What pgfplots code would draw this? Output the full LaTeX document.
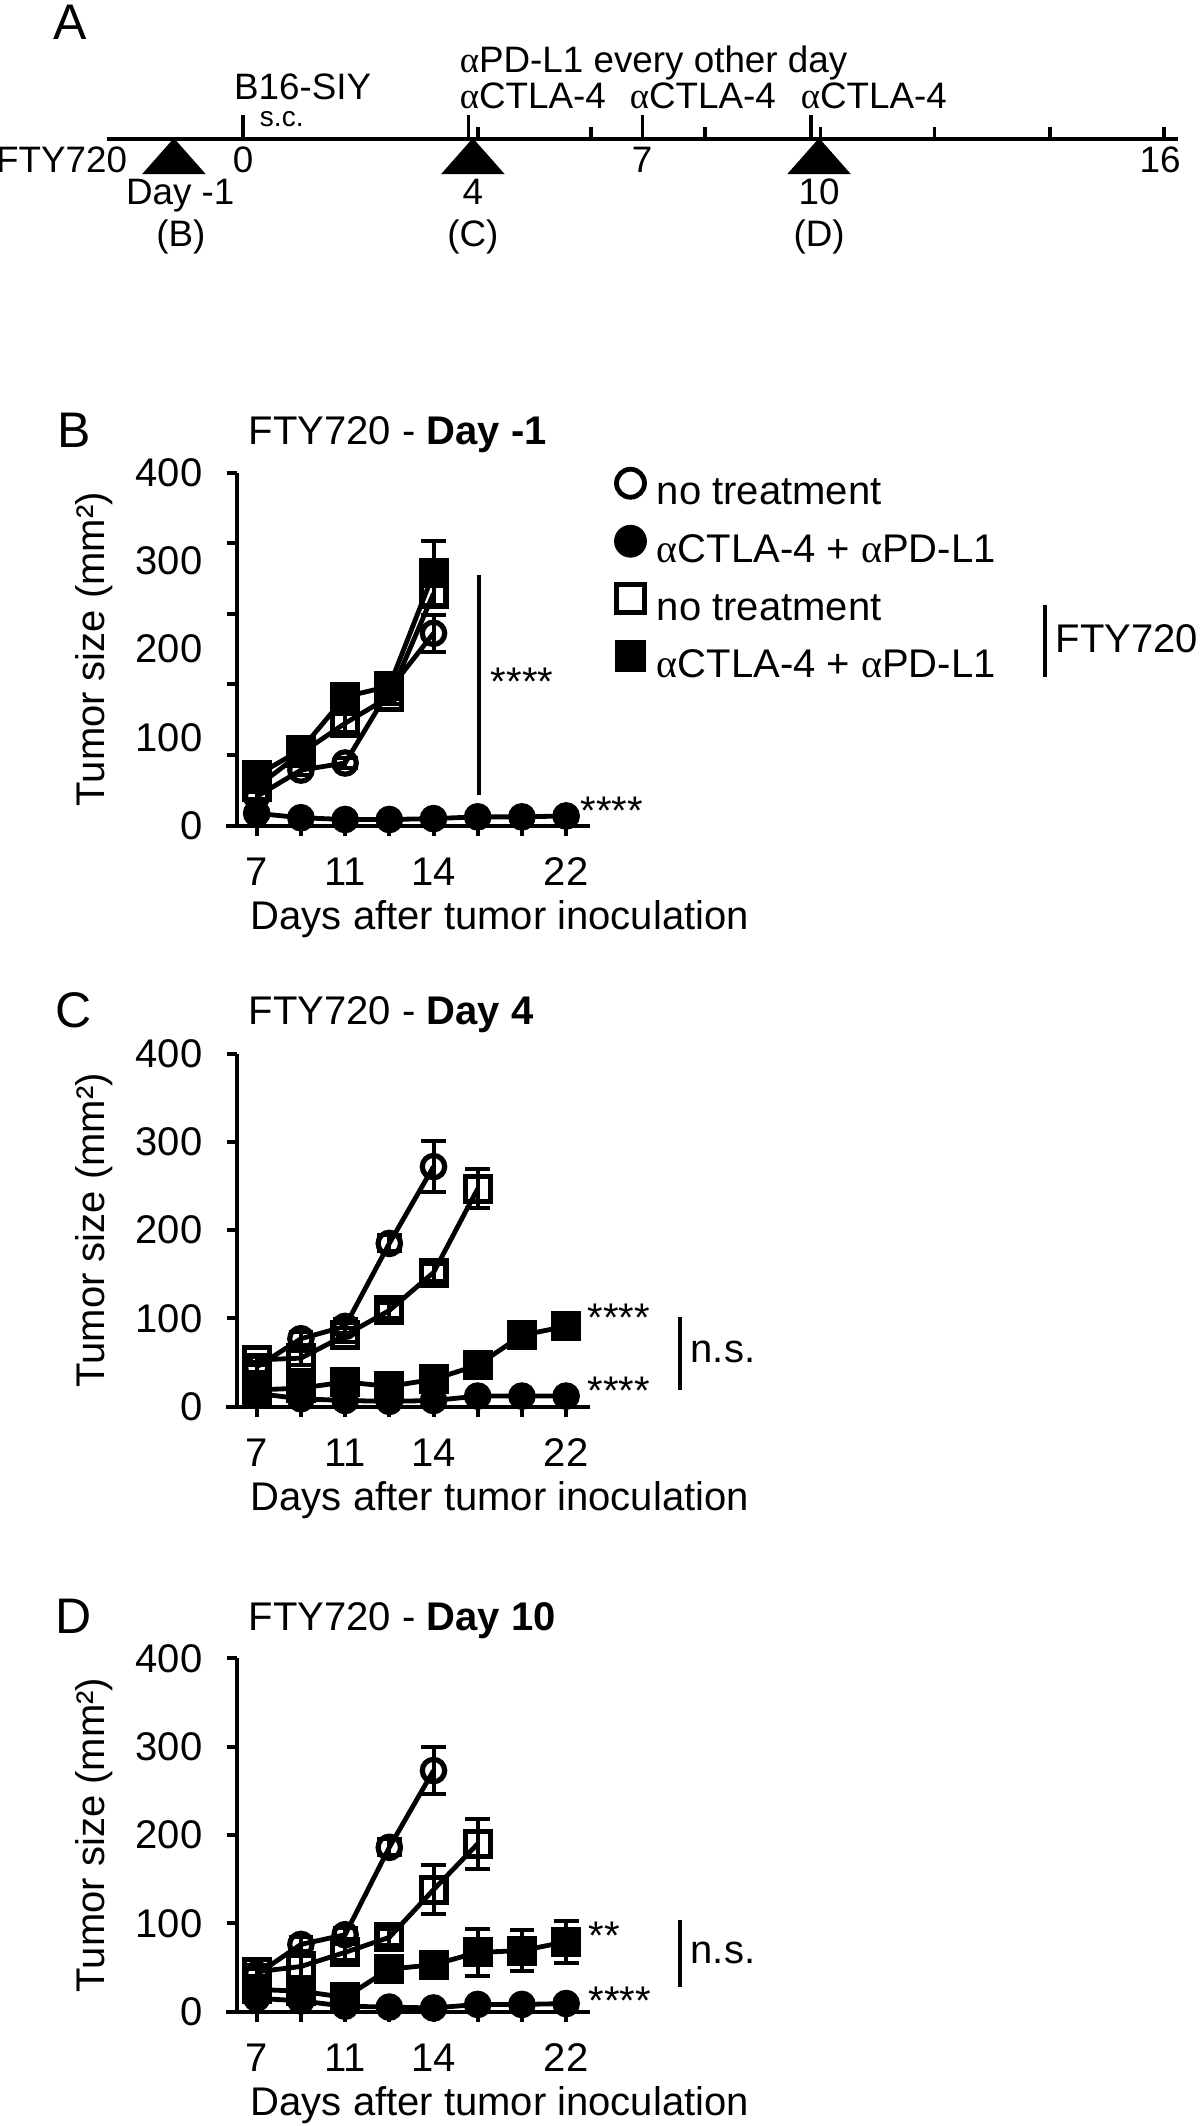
\documentclass[border=0pt]{standalone}
\usepackage{pgfplots}
\pgfplotsset{compat=1.18}
\usepackage{fontspec}
\setmainfont{Liberation Sans}
\newfontfamily\greekrm{Liberation Serif}

\newcommand{\ten}{\fontsize{10}{12}\selectfont}
\newcommand{\tl}{\fontsize{9.2}{11}\selectfont}
\newcommand{\panelfont}{\fontsize{12.5}{14}\selectfont}
\newcommand{\al}{{\greekrm α}}

\pgfplotsset{
  tumor/.style={
    scale only axis, width=88.375pt, height=88.25pt,
    anchor=south west,
    xmin=-0.457, xmax=7.54, ymin=0, ymax=400,
    axis lines=left, axis line style={-, line width=1pt},
    x axis line style={-}, y axis line style={-},
    tick align=outside, major tick length=2.5pt, minor tick length=2.5pt,
    major tick style={line width=1pt, black},
    minor tick style={line width=1pt, black},
    xtick={0,...,7}, xticklabels={7,,11,,14,,,22},
    ytick={0,100,200,300,400},
    tick label style={font=\ten},
    /pgf/number format/assume math mode=true,
    xticklabel style={yshift=-2pt},
    yticklabel style={xshift=-2.5pt},
    xlabel={Days after tumor inoculation},
    ylabel={Tumor size (mm²)},
    label style={font=\ten},
    xlabel style={at={(axis description cs:0.745,-0.264)}, anchor=center},
    ylabel style={at={(axis description cs:-0.403,0.5)}, anchor=center},
    clip=false,
  },
  ser/.style={black, line width=1.2pt, mark size=2.8pt,
    mark options={solid, line width=1.3pt}, forget plot,
    error bars/y dir=both, error bars/y explicit,
    error bars/error bar style={line width=1pt, black},
    error bars/error mark options={rotate=90, mark size=3.1pt, line width=1pt, black}},
  sq/.style={mark size=3.1pt},
}

\begin{document}
\begin{tikzpicture}
\useasboundingbox (0,0) rectangle (300pt,531.5pt);

% ---------- A: timeline ----------
\begin{axis}[at={(26.2pt,466.5pt)}, anchor=south west, scale only axis,
  width=269.28pt, height=65pt, xmin=-2.4, xmax=16.3, ymin=-121, ymax=139,
  hide axis, clip=false]
\addplot[black, line width=1.2pt] coordinates {(-2.36,0) (16.23,0)};
\addplot[black, ycomb, line width=0.8pt] coordinates {(0,24) (3.92,24) (6.93,24) (9.86,24)};
\addplot[black, ycomb, line width=0.8pt] coordinates {(4.08,12) (6.04,12) (8.02,12) (10.03,12) (12.01,12) (14.01,12) (15.99,12)};
\addplot[black, only marks, mark=triangle*, mark size=8.66pt, mark options={yscale=0.654}]
  coordinates {(-1.2,-23) (3.99,-23) (10,-23)};
\begin{scope}[every node/.style={font=\tl, inner sep=0pt}]
\node[anchor=base east] at (axis cs:-2.0,-34) {FTY720};
\node[anchor=base west] at (axis cs:-0.17,39) {B16-SIY};
\node[anchor=base west, font=\fontsize{7}{8}\selectfont] at (axis cs:0.28,12) {s.c.};
\node[anchor=base west] at (axis cs:3.75,66) {\al PD-L1 every other day};
\node[anchor=base west] at (axis cs:3.75,30) {\al CTLA-4};
\node[anchor=base west] at (axis cs:6.70,30) {\al CTLA-4};
\node[anchor=base west] at (axis cs:9.67,30) {\al CTLA-4};
\node[anchor=base] at (axis cs:0,-34) {0};
\node[anchor=base] at (axis cs:6.93,-34) {7};
\node[anchor=base] at (axis cs:15.92,-34) {16};
\node[anchor=base] at (axis cs:-1.09,-66) {Day -1};
\node[anchor=base] at (axis cs:3.99,-66) {4};
\node[anchor=base] at (axis cs:10,-66) {10};
\node[anchor=base] at (axis cs:-1.08,-108) {(B)};
\node[anchor=base] at (axis cs:3.99,-108) {(C)};
\node[anchor=base] at (axis cs:10,-108) {(D)};
\end{scope}
\end{axis}

% ---------- B ----------
\begin{axis}[tumor, at={(59.125pt,325.075pt)},
  major y tick style={draw=none},
  minor ytick={0,80,160,240,320,400},
  legend style={at={(1.0716,1.012)}, anchor=north west, draw=none, fill=none,
    inner sep=0pt, row sep=3pt, column sep=3pt, font=\ten,
    nodes={inner sep=0pt, text height=7.5pt, text depth=2.5pt}},
  legend cell align=left,
  legend image code/.code={\draw[#1] plot coordinates {(0pt,2.9pt)};},
]
\addplot[ser, mark=o] coordinates {(0,33) +- (0,5) (1,63) +- (0,6) (2,71) +- (0,6) (3,154) +- (0,8) (4,218) +- (0,21)};
\addplot[ser, mark=*] coordinates {(0,14) +- (0,3) (1,9) +- (0,3) (2,7) +- (0,2) (3,7) +- (0,2) (4,8) +- (0,2) (5,10) +- (0,3) (6,10) +- (0,3) (7,11) +- (0,3)};
\addplot[ser, sq, mark=square] coordinates {(0,44) +- (0,6) (1,82) +- (0,8) (2,116) +- (0,10) (3,146) +- (0,8) (4,263) +- (0,14)};
\addplot[ser, sq, mark=square*] coordinates {(0,57) +- (0,6) (1,86) +- (0,8) (2,146) +- (0,10) (3,158) +- (0,8) (4,286) +- (0,37)};
\addlegendimage{only marks, mark=o, mark size=3.5pt, line width=1.2pt}
\addlegendentry{no treatment}
\addlegendimage{only marks, mark=*, mark size=3.6pt, line width=1pt}
\addlegendentry{\al CTLA-4 + \al PD-L1}
\addlegendimage{only marks, mark=square, mark size=3.5pt, line width=1.2pt}
\addlegendentry{no treatment}
\addlegendimage{only marks, mark=square*, mark size=3.4pt, line width=1pt}
\addlegendentry{\al CTLA-4 + \al PD-L1}
\draw[line width=1pt] (axis cs:-0.69,0) -- (axis cs:-0.457,0);
\draw[line width=1pt] (axis cs:5.03,35) -- (axis cs:5.03,284);
\node[anchor=base west, inner sep=0pt, font=\ten] at (axis cs:5.28,147) {****};
\node[anchor=base west, inner sep=0pt, font=\ten] at (axis cs:7.31,1) {****};
\end{axis}

% ---------- C ----------
\begin{axis}[tumor, at={(59.125pt,179.825pt)}]
\addplot[ser, mark=o] coordinates {(0,45) +- (0,6) (1,77) +- (0,8) (2,91) +- (0,8) (3,185) +- (0,9) (4,272) +- (0,29)};
\addplot[ser, sq, mark=square] coordinates {(0,53) +- (0,6) (1,55) +- (0,8) (2,81) +- (0,8) (3,109) +- (0,9) (4,152) +- (0,10) (5,247) +- (0,22)};
\addplot[ser, sq, mark=square*] coordinates {(0,19) +- (0,4) (1,21) +- (0,5) (2,28) +- (0,6) (3,23) +- (0,5) (4,31) +- (0,6) (5,47) +- (0,7) (6,81) +- (0,8) (7,91) +- (0,9)};
\addplot[ser, mark=*] coordinates {(0,15) +- (0,3) (1,9) +- (0,3) (2,7) +- (0,2) (3,6) +- (0,2) (4,7) +- (0,2) (5,12) +- (0,3) (6,12) +- (0,3) (7,12) +- (0,3)};
\draw[line width=1pt] (axis cs:-0.69,0) -- (axis cs:-0.457,0);
\node[anchor=base west, inner sep=0pt, font=\ten] at (axis cs:7.47,85) {****};
\node[anchor=base west, inner sep=0pt, font=\ten] at (axis cs:7.47,2) {****};
\draw[line width=1pt] (axis cs:9.58,19) -- (axis cs:9.58,102);
\node[anchor=base west, inner sep=0pt, font=\ten] at (axis cs:9.8,50) {n.s.};
\end{axis}

% ---------- D ----------
\begin{axis}[tumor, at={(59.125pt,28.625pt)}]
\addplot[ser, mark=o] coordinates {(0,42) +- (0,6) (1,76) +- (0,8) (2,87) +- (0,8) (3,186) +- (0,9) (4,273) +- (0,27)};
\addplot[ser, sq, mark=square] coordinates {(0,45) +- (0,8) (1,51) +- (0,12) (2,67) +- (0,9) (3,84) +- (0,9) (4,138) +- (0,28) (5,190) +- (0,28)};
\addplot[ser, sq, mark=square*] coordinates {(0,25) +- (0,5) (1,23) +- (0,6) (2,16) +- (0,5) (3,48) +- (0,8) (4,53) +- (0,9) (5,67) +- (0,27) (6,69) +- (0,23) (7,79) +- (0,24)};
\addplot[ser, mark=*] coordinates {(0,15) +- (0,3) (1,12) +- (0,3) (2,6) +- (0,2) (3,5) +- (0,2) (4,4) +- (0,2) (5,8) +- (0,3) (6,8) +- (0,3) (7,9) +- (0,3)};
\draw[line width=1pt] (axis cs:-0.69,0) -- (axis cs:-0.457,0);
\node[anchor=base west, inner sep=0pt, font=\ten] at (axis cs:7.49,70) {**};
\node[anchor=base west, inner sep=0pt, font=\ten] at (axis cs:7.49,-3) {****};
\draw[line width=1pt] (axis cs:9.58,28) -- (axis cs:9.58,104);
\node[anchor=base west, inner sep=0pt, font=\ten] at (axis cs:9.8,54) {n.s.};
\end{axis}

% ---------- panel letters, titles, legend bracket ----------
\begin{scope}[x=0.25pt, y=-0.25pt, shift={(0pt,531.5pt)}, every node/.style={inner sep=0pt}]
\node[anchor=base, font=\panelfont] at (70,40) {A};
\node[anchor=base, font=\panelfont] at (74,448) {B};
\node[anchor=base, font=\panelfont] at (74,1028) {C};
\node[anchor=base, font=\panelfont] at (74,1634) {D};
\node[anchor=base west, font=\ten] at (248,445) {FTY720 - \textbf{Day -1}};
\node[anchor=base west, font=\ten] at (248,1025) {FTY720 - \textbf{Day 4}};
\node[anchor=base west, font=\ten] at (248,1631) {FTY720 - \textbf{Day 10}};
\draw[line width=1.2pt] (1045,605) -- (1045,677);
\node[anchor=base west, font=\ten] at (1055,653) {FTY720};
\end{scope}
\end{tikzpicture}
\end{document}
